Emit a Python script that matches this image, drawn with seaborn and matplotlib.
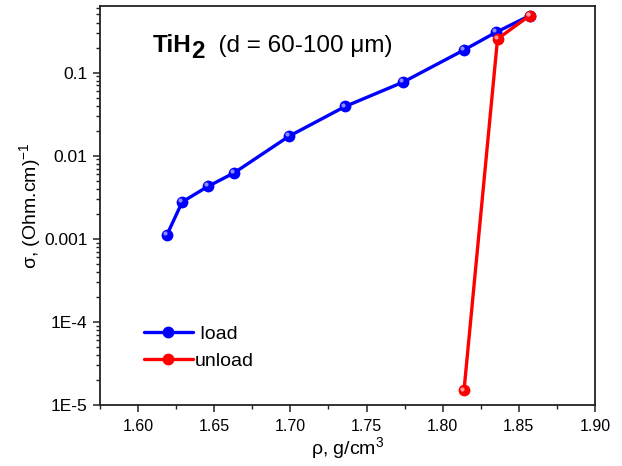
import matplotlib
matplotlib.use("Agg")
import matplotlib.pyplot as plt
import matplotlib.ticker as mticker
import matplotlib.transforms as mtransforms
import numpy as np
import pandas as pd
import seaborn as sns

# Data (density in g/cm3, conductivity in (Ohm.cm)^-1)
LOAD_RHO = [1.619, 1.629, 1.646, 1.663, 1.699, 1.736, 1.774, 1.814, 1.835, 1.857]
LOAD_SIGMA = [0.00112, 0.00278, 0.00428, 0.0062, 0.0171, 0.0391, 0.0767, 0.187, 0.305, 0.483]
UNLOAD_RHO = [1.857, 1.836, 1.814]
UNLOAD_SIGMA = [0.483, 0.254, 1.5e-5]

SERIES = ["load", "unload"]
LEGEND_LABELS = [" load", "unload"]
YTICKS = [1e-5, 1e-4, 1e-3, 1e-2, 1e-1]
YTICK_LABELS = ["1E-5", "1E-4", "0.001", "0.01", "0.1"]
XTICKS = [1.60, 1.65, 1.70, 1.75, 1.80, 1.85, 1.90]

COLORS = {"load": "#0000ff", "unload": "#ff0000"}
HIGHLIGHT = {"load": "#8c8cff", "unload": "#ff9a9a"}

sns.set_style("ticks")
plt.rcParams["font.family"] = ["Liberation Sans", "DejaVu Sans"]
plt.rcParams["mathtext.fontset"] = "custom"
plt.rcParams["mathtext.rm"] = "Liberation Sans"
plt.rcParams["mathtext.it"] = "Liberation Sans:italic"
plt.rcParams["mathtext.bf"] = "Liberation Sans:bold"
for key in ["text.color", "axes.labelcolor", "xtick.color", "ytick.color"]:
    plt.rcParams[key] = "black"

df = pd.concat([
    pd.DataFrame({"rho": LOAD_RHO, "sigma": LOAD_SIGMA, "series": SERIES[0]}),
    pd.DataFrame({"rho": UNLOAD_RHO, "sigma": UNLOAD_SIGMA, "series": SERIES[1]}),
], ignore_index=True)

fig, ax = plt.subplots(figsize=(6.22, 4.66), dpi=100)
fig.subplots_adjust(left=100 / 622, right=595 / 622, top=1 - 6 / 466, bottom=1 - 405 / 466)

sns.lineplot(data=df, x="rho", y="sigma", hue="series", palette=COLORS,
             marker="o", markersize=8.5, markeredgewidth=0, linewidth=2.4,
             sort=False, estimator=None, ax=ax)

# small glossy highlight on each marker (sphere look)
shift = mtransforms.ScaledTranslation(-1.3 / 72, 1.3 / 72, fig.dpi_scale_trans)
for name in SERIES:
    sub = df[df["series"] == name]
    ax.plot(sub["rho"], sub["sigma"], "o", ms=3, mew=0, color=HIGHLIGHT[name],
            transform=ax.transData + shift, zorder=3)

ax.set_yscale("log")
ax.set_xlim(1.575, 1.90)
ax.set_ylim(1e-5, 0.632)

ax.yaxis.set_major_locator(mticker.FixedLocator(YTICKS))
ax.yaxis.set_major_formatter(mticker.FixedFormatter(YTICK_LABELS))
ax.yaxis.set_minor_locator(mticker.LogLocator(base=10, subs=np.arange(2, 10)))
ax.yaxis.set_minor_formatter(mticker.NullFormatter())
ax.xaxis.set_major_locator(mticker.FixedLocator(XTICKS))
ax.xaxis.set_major_formatter(mticker.FormatStrFormatter("%.2f"))
ax.xaxis.set_minor_locator(mticker.MultipleLocator(0.025))

ax.tick_params(which="major", direction="out", length=5, width=1.1, color="#222222")
ax.tick_params(which="minor", direction="out", length=3, width=1.0, color="#222222")
ax.tick_params(axis="x", which="major", labelsize=11.5, pad=5)
ax.tick_params(axis="y", which="major", labelsize=12.5, pad=4)
for sp in ax.spines.values():
    sp.set_visible(True)
    sp.set_linewidth(1.3)
    sp.set_color("#222222")

ax.set_xlabel("ρ, g/cm$^{3}$", fontsize=14, labelpad=1)
ax.set_ylabel("σ, (Ohm.cm)$^{-1}$", fontsize=14, labelpad=1)

# legend
handles, _ = ax.get_legend_handles_labels()
ax.legend(handles, LEGEND_LABELS, loc="upper left", bbox_to_anchor=(0.089, 0.20),
          frameon=False, fontsize=14, handlelength=2.5, handletextpad=0.1,
          labelspacing=0.5, borderpad=0, borderaxespad=0, numpoints=1)

# title-like annotation: TiH2 (d = 60-100 um)
t1 = ax.text(0.106, 0.885, "TiH", transform=ax.transAxes, fontsize=17.5,
             fontweight="bold", va="baseline", ha="left")
t2 = ax.annotate("2", xy=(1, 0), xycoords=t1, xytext=(0, -4.5), textcoords="offset points",
                 fontsize=17.5, fontweight="bold", va="bottom", ha="left")
ax.annotate("  (d = 60-100 μm)", xy=(1, 0), xycoords=(t2, t1), xytext=(0, 0),
            textcoords="offset points", fontsize=17.5, va="bottom", ha="left")

fig.savefig("out.png", dpi=100)
